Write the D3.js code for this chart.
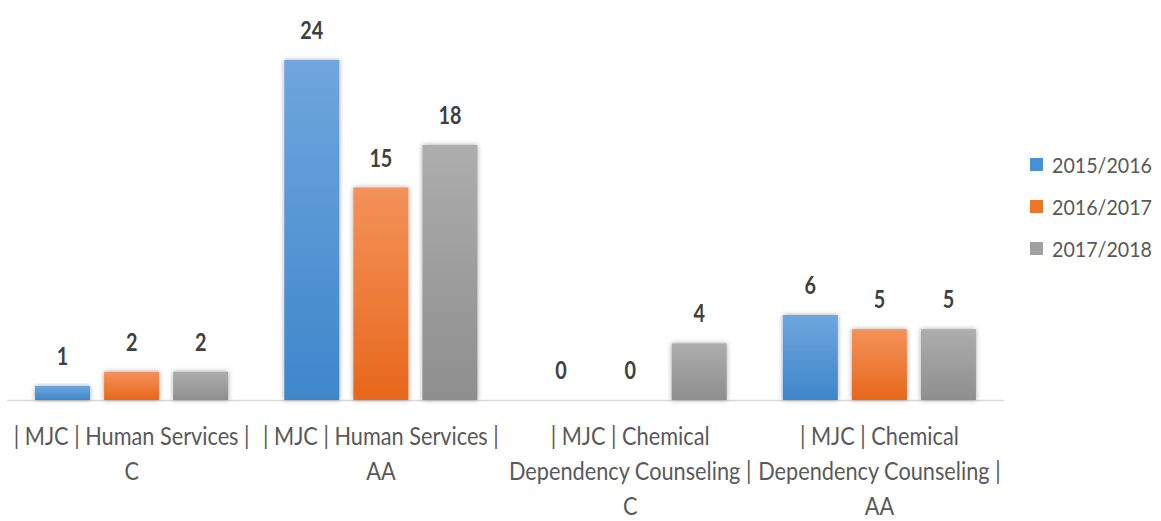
<!DOCTYPE html>
<html><head><meta charset="utf-8">
<script src="https://cdn.jsdelivr.net/npm/d3@7/dist/d3.min.js"></script>
<style>
html,body{margin:0;padding:0;background:#fff;}
text{font-family:Lato,"Open Sans",sans-serif;}
</style></head>
<body><svg id="c" width="1161" height="521"></svg>
<script>
const categories = ["| MJC | Human Services | C", "| MJC | Human Services | AA", "| MJC | Chemical Dependency Counseling | C", "| MJC | Chemical Dependency Counseling | AA"];
const seriesNames = ["2015/2016", "2016/2017", "2017/2018"];
const values2015 = [1, 24, 0, 6];
const values2016 = [2, 15, 0, 5];
const values2017 = [2, 18, 4, 5];
const seriesValues = [values2015, values2016, values2017];
const colorsTop = ["#6fa6dd", "#f3925a", "#adadad"];
const colorsBottom = ["#3e86cb", "#e7671b", "#8e8e8e"];
const legendColors = ["#4a90d4", "#ee7628", "#a0a0a0"];

const svg = d3.select("#c");
const defs = svg.append("defs");
seriesNames.forEach((s,i)=>{
  const g = defs.append("linearGradient").attr("id","g"+i).attr("x1",0).attr("y1",0).attr("x2",0).attr("y2",1);
  g.append("stop").attr("offset","0%").attr("stop-color",colorsTop[i]);
  g.append("stop").attr("offset","100%").attr("stop-color",colorsBottom[i]);
});
const f = defs.append("filter").attr("id","sh").attr("x","-20%").attr("y","-20%").attr("width","140%").attr("height","140%");
f.append("feDropShadow").attr("dx",0).attr("dy",0).attr("stdDeviation",2.5).attr("flood-color","#000").attr("flood-opacity",0.35);

function measure(str, size, weight){
  const t = svg.append("text").attr("font-size",size).attr("font-weight",weight||"normal").text(str);
  const w = t.node().getComputedTextLength(); t.remove(); return w;
}
const CAT_SIZE = 25, VAL_SIZE = 24, LEG_SIZE = 21;
const sxCat = 236 / measure("| MJC | Human Services |", CAT_SIZE);
const sxVal = 23 / measure("24", VAL_SIZE, "bold");
const sxLeg = 100 / measure("2015/2016", LEG_SIZE);

function sText(parent, x, yy, sx, str, size, opts){
  opts = opts || {};
  const g = parent.append("g").attr("transform", `translate(${x},${yy}) scale(${sx},1)`);
  const t = g.append("text").attr("x",0).attr("y",0).attr("font-size",size)
    .attr("text-anchor", opts.anchor || "start").attr("font-weight", opts.weight || "normal")
    .attr("fill", opts.fill || "#595959");
  if (str !== null) t.text(str);
  return t;
}

const x0 = d3.scaleBand().domain(categories).range([7, 1004]).paddingInner(0).paddingOuter(0);
const x1 = d3.scaleBand().domain(seriesNames).range([0, x0.bandwidth()]).paddingInner(0.203).paddingOuter(0.406);
const y = d3.scaleLinear().domain([0, 24]).range([400, 60]);

svg.append("line").attr("x1",x0.range()[0]).attr("x2",x0.range()[1]).attr("y1",y(0)+0.5).attr("y2",y(0)+0.5)
  .attr("stroke","#d9d9d9").attr("stroke-width",1.5);

const groups = svg.append("g").selectAll("g").data(categories).join("g")
  .attr("transform", d=>`translate(${x0(d)},0)`);

groups.each(function(cat, ci){
  const g = d3.select(this);
  seriesNames.forEach((s, si)=>{
    const v = seriesValues[si][ci];
    g.append("rect").attr("x", x1(s)).attr("width", x1.bandwidth())
      .attr("y", y(v)).attr("height", y(0)-y(v))
      .attr("fill", `url(#g${si})`).attr("filter","url(#sh)");
    sText(g, x1(s)+x1.bandwidth()/2, y(v)-21, sxVal, v, VAL_SIZE, {anchor:"middle", weight:"bold", fill:"#404040"});
  });
});

function wrapLines(text, maxW){
  const words = text.split(" ");
  const lines = []; let cur = "";
  words.forEach(w=>{
    const t = cur ? cur+" "+w : w;
    if (measure(t, CAT_SIZE)*sxCat > maxW && cur){ lines.push(cur); cur = w; }
    else cur = t;
  });
  if (cur) lines.push(cur);
  return lines;
}
categories.forEach(cat=>{
  const lines = wrapLines(cat, x0.bandwidth()-4);
  const t = sText(svg, x0(cat)+x0.bandwidth()/2, 0, sxCat, null, CAT_SIZE, {anchor:"middle", fill:"#595959"});
  lines.forEach((l,i)=>{
    t.append("tspan").attr("x", 0).attr("y", 445 + i*35).text(l);
  });
});

const lg = svg.append("g");
seriesNames.forEach((s,i)=>{
  const yy = 165 + i*42;
  lg.append("rect").attr("x",1030).attr("y",yy-7).attr("width",13).attr("height",13).attr("fill",legendColors[i]);
  sText(lg, 1052, yy+8, sxLeg, s, LEG_SIZE, {fill:"#595959"});
});
</script></body></html>
